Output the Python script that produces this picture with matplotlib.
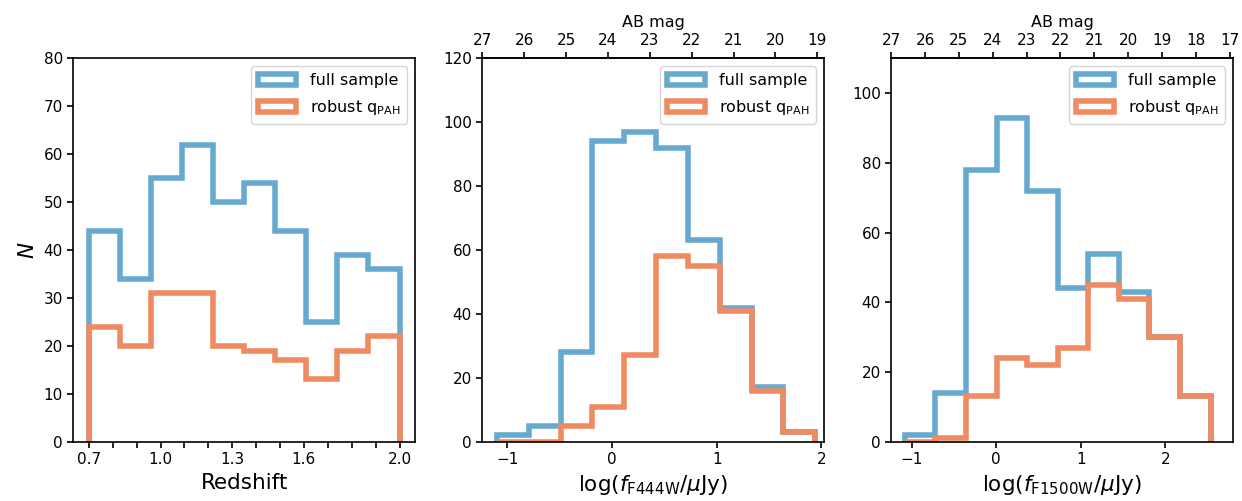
import numpy as np
import matplotlib.pyplot as plt

# Colours (ColorBrewer RdBu)
c_full = "#67a9cf"
c_robust = "#ef8a62"

# Redshift histogram
z_lo, z_hi, z_nbins = 0.7, 2.0, 10
z_full = [44, 34, 55, 62, 50, 54, 44, 25, 39, 36]
z_robust = [24, 20, 31, 31, 20, 19, 17, 13, 19, 22]

# log F444W flux histogram
f444_lo, f444_hi, f444_nbins = -1.10, 1.94, 10
f444_full = [2, 5, 28, 94, 97, 92, 63, 42, 17, 3]
f444_robust = [0, 0, 5, 11, 27, 58, 55, 41, 16, 3]

# log F1500W flux histogram
f1500_lo, f1500_hi, f1500_nbins = -1.08, 2.535, 10
f1500_full = [2, 14, 78, 93, 72, 44, 54, 43, 30, 13]
f1500_robust = [0, 1, 13, 24, 22, 27, 45, 41, 30, 13]

z_ticks = [0.7, 1.0, 1.3, 1.6, 2.0]
mag_ticks_444 = list(range(27, 18, -1))
mag_ticks_1500 = list(range(27, 16, -1))

plt.rcParams.update({
    "font.family": "DejaVu Sans",
    "axes.linewidth": 1.2,
    "xtick.major.width": 1.2,
    "ytick.major.width": 1.2,
    "xtick.major.size": 4,
    "ytick.major.size": 4,
    "xtick.labelsize": 11,
    "ytick.labelsize": 11,
})


def flux2mag(x):
    return 23.9 - 2.5 * x


def mag2flux(m):
    return (23.9 - m) / 2.5


def draw_hist(ax, lo, hi, nbins, full, robust):
    edges = np.linspace(lo, hi, nbins + 1)
    centers = 0.5 * (edges[1:] + edges[:-1])
    ax.hist(centers, bins=edges, weights=full, histtype="step",
            lw=4, color=c_full, label="full sample")
    ax.hist(centers, bins=edges, weights=robust, histtype="step",
            lw=4, color=c_robust, label=r"robust q$_{\rm PAH}$")
    ax.legend(loc="upper right", fontsize=11.5, handlelength=2.4,
              labelspacing=0.65, handletextpad=0.9)


def add_mag_axis(ax, ticks):
    sec = ax.secondary_xaxis("top", functions=(flux2mag, mag2flux))
    sec.set_xticks(ticks)
    sec.set_xlabel("AB mag", fontsize=11.5)
    return sec


fig = plt.figure(figsize=(12.42, 5.01), dpi=100)
w, h = 0.2752, 0.765
ax1 = fig.add_axes([0.059, 0.1184, w, h])
ax2 = fig.add_axes([0.3883, 0.1184, w, h])
ax3 = fig.add_axes([0.7176, 0.1184, w, h])

# Panel 1: redshift
draw_hist(ax1, z_lo, z_hi, z_nbins, z_full, z_robust)
ax1.set_ylim(0, 80)
ax1.set_yticks(np.arange(0, 81, 10))
minor_z = np.round(np.arange(0.7, 2.001, 0.1), 1)
ax1.set_xticks(minor_z)
ax1.set_xticklabels(["%.1f" % t if any(abs(t - z) < 1e-6 for z in z_ticks) else ""
                     for t in minor_z])
ax1.set_xlabel("Redshift", fontsize=15.5)
ax1.set_ylabel(r"$N$", fontsize=15.5)

# Panel 2: F444W
draw_hist(ax2, f444_lo, f444_hi, f444_nbins, f444_full, f444_robust)
ax2.set_xlim(-1.24, 2.025)
ax2.set_ylim(0, 120)
ax2.set_yticks(np.arange(0, 121, 20))
ax2.set_xticks([-1, 0, 1, 2])
ax2.set_xlabel(r"log($f_{\rm F444W}/\mu$Jy)", fontsize=15.5)
add_mag_axis(ax2, mag_ticks_444)

# Panel 3: F1500W
draw_hist(ax3, f1500_lo, f1500_hi, f1500_nbins, f1500_full, f1500_robust)
ax3.set_xlim(-1.24, 2.80)
ax3.set_ylim(0, 110)
ax3.set_yticks(np.arange(0, 101, 20))
ax3.set_xticks([-1, 0, 1, 2])
ax3.set_xlabel(r"log($f_{\rm F1500W}/\mu$Jy)", fontsize=15.5)
add_mag_axis(ax3, mag_ticks_1500)

fig.savefig("out.png", dpi=100)
